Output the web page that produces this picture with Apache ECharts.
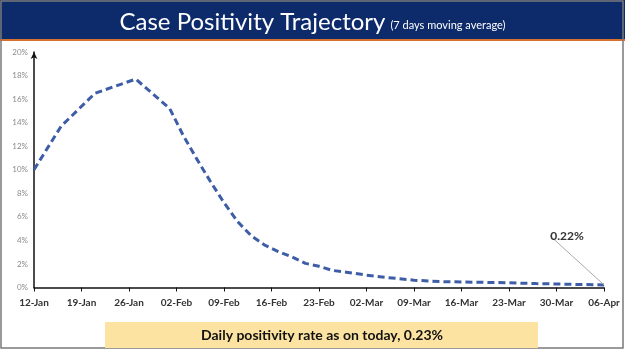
<!DOCTYPE html>
<html>
<head>
<meta charset="utf-8">
<script src="https://cdn.jsdelivr.net/npm/echarts@6/dist/echarts.min.js"></script>
<style>
  html, body { margin: 0; padding: 0; background: #fff; }
  #chart { width: 625px; height: 351px; }
</style>
</head>
<body>
<div id="chart"></div>
<script>
// days counted from 12-Jan, values in %
var dayIndex = [0, 4, 9, 15, 20, 22, 24, 26, 28, 30, 32, 34, 36, 38, 40, 42, 44, 46, 49, 52, 56, 60, 63, 66, 70, 74, 77, 80, 84];
var positivity = [10.0, 13.7, 16.5, 17.7, 15.2, 12.9, 10.9, 9.0, 7.2, 5.6, 4.4, 3.6, 3.05, 2.6, 2.05, 1.8, 1.45, 1.3, 1.05, 0.85, 0.62, 0.5, 0.47, 0.44, 0.4, 0.33, 0.3, 0.26, 0.22];
var weekLabels = ['12-Jan', '19-Jan', '26-Jan', '02-Feb', '09-Feb', '16-Feb', '23-Feb', '02-Mar', '09-Mar', '16-Mar', '23-Mar', '30-Mar', '06-Apr'];
var lastLabel = '0.22%';
var titleText = 'Case Positivity Trajectory';
var subtitleText = '(7 days moving average)';
var footerText = 'Daily positivity rate as on today, 0.23%';

(function () {
    'use strict';

    var chart = echarts.init(document.getElementById('chart'), null, { renderer: 'canvas' });

    var seriesData = dayIndex.map(function (d, i) {
        var item = { value: [d, positivity[i]] };
        if (i === dayIndex.length - 1) {
            item.label = {
                show: true,
                formatter: lastLabel,
                position: 'top',
                fontFamily: 'Lato',
                fontWeight: 'bold',
                fontSize: 12,
                color: '#333'
            };
            item.labelLine = { show: true, lineStyle: { color: '#aaa', width: 1 } };
        }
        return item;
    });

    chart.setOption({
        animation: false,
        backgroundColor: '#fff',
        title: {
            text: '{a|' + titleText + '} {b|' + subtitleText + '}',
            left: 'center',
            top: 5,
            textStyle: {
                rich: {
                    a: { fontFamily: 'Lato', fontWeight: 'normal', fontSize: 24, color: '#fff' },
                    b: { fontFamily: 'Lato', fontWeight: 'normal', fontSize: 11, color: '#fff', padding: [6, 0, 0, 0] }
                }
            }
        },
        graphic: [
            { type: 'rect', z: -1, shape: { x: 0, y: 0, width: 625, height: 39 }, style: { fill: '#0d2a6a' } },
            { type: 'rect', z: -1, shape: { x: 0, y: 39, width: 625, height: 2 }, style: { fill: '#d8702d' } },
            { type: 'rect', z: -1, shape: { x: 1, y: 1, width: 622, height: 347 }, style: { fill: 'none', stroke: '#7a7a7a', lineWidth: 1.5 } },
            { type: 'rect', z: 5, shape: { x: 105, y: 322, width: 433, height: 26 }, style: { fill: '#fce3a1' } },
            {
                type: 'text', z: 6, x: 322, y: 335,
                style: {
                    text: footerText, fontFamily: 'Lato', fontWeight: 'bold', fontSize: 14,
                    fill: '#111', align: 'center', verticalAlign: 'middle'
                }
            }
        ],
        grid: { left: 34, right: 21, top: 52, bottom: 63.5, containLabel: false },
        xAxis: {
            type: 'value',
            min: 0,
            max: 84,
            interval: 7,
            splitLine: { show: false },
            axisLine: { lineStyle: { color: '#111', width: 1.5 } },
            axisTick: { show: true, length: 4, lineStyle: { color: '#111' } },
            axisLabel: {
                margin: 10,
                fontFamily: 'Lato',
                fontWeight: 'bold',
                fontSize: 10,
                color: '#333',
                formatter: function (v) {
                    return weekLabels[Math.round(v / 7)] || '';
                }
            }
        },
        yAxis: {
            type: 'value',
            min: 0,
            max: 20,
            interval: 2,
            splitLine: { show: false },
            axisLine: {
                show: true,
                symbol: ['none', 'arrow'],
                symbolSize: [5, 7],
                lineStyle: { color: '#111', width: 1.5 }
            },
            axisTick: { show: false },
            axisLabel: {
                margin: 6,
                fontFamily: 'Lato',
                fontSize: 8,
                color: '#8a8a8a',
                formatter: '{value}%'
            }
        },
        series: [{
            type: 'line',
            data: seriesData,
            showSymbol: true,
            symbol: 'circle',
            symbolSize: 0,
            smooth: false,
            lineStyle: { color: '#3d5ea6', width: 3, type: [7, 4] },
            labelLayout: { dx: -37, dy: -38 },
            z: 3
        }]
    });
})();
</script>
</body>
</html>
